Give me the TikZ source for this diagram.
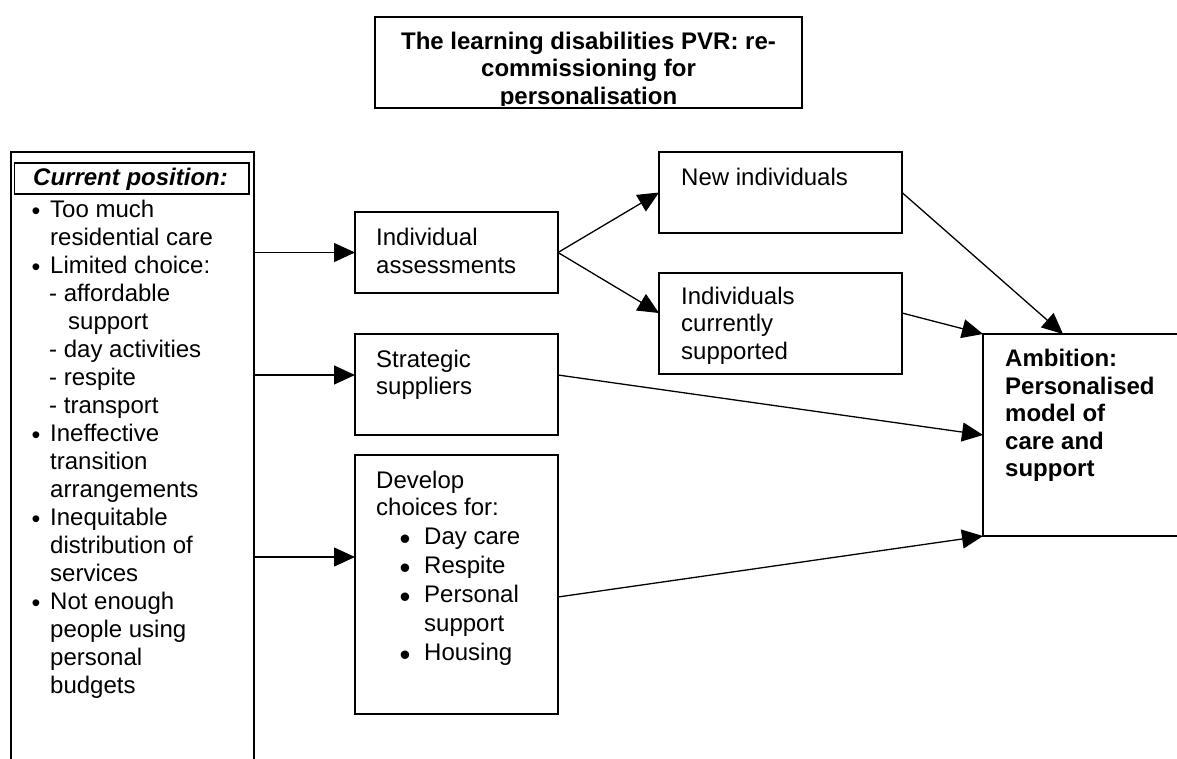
\documentclass[tikz,border=0pt]{standalone}
\usepackage{fontspec}
\setmainfont{Liberation Sans}
\usetikzlibrary{arrows.meta,calc}
\begin{document}
\begin{tikzpicture}[x=1pt,y=-1pt,
  box/.style={draw, line width=1.8pt, inner sep=0pt, outer sep=0pt, anchor=north west},
  txt/.style={inner sep=0pt, anchor=base west, font=\fontsize{24}{27.6}\selectfont},
  btxt/.style={inner sep=0pt, anchor=base west, font=\fontsize{24}{27.6}\selectfont\bfseries},
  bul/.style={inner sep=0pt, anchor=base, yshift=-2.8pt, font=\fontsize{25}{28}\selectfont},
  bigbul/.style={inner sep=0pt, anchor=base, yshift=-5.2pt, font=\fontsize{31}{34}\selectfont},
  conn/.style={line width=1.3pt, -{Triangle[length=21pt,width=19pt]}},
]
\useasboundingbox (0,0) rectangle (1177,758);
\clip (0,0) rectangle (1177,758);

% boxes
\node[box, minimum width=427pt, minimum height=91pt] (title) at (375,17) {};
\node[box, minimum width=243pt, minimum height=618pt] (lb) at (11,152) {};
\node[box, minimum width=234.5pt, minimum height=31pt] (cp) at (14.5,163) {};
\node[box, minimum width=203pt, minimum height=81pt] (ia) at (355,212) {};
\node[box, minimum width=203pt, minimum height=101pt] (ss) at (355,334) {};
\node[box, minimum width=203pt, minimum height=259pt] (dc) at (355,455) {};
\node[box, minimum width=243pt, minimum height=81pt] (ni) at (659,152) {};
\node[box, minimum width=243pt, minimum height=101pt] (ics) at (659,273) {};
\node[box, minimum width=210pt, minimum height=202pt] (amb) at (983,334) {};

% title text (clipped by its box)
\begin{scope}
  \clip (376,18) rectangle (801,105.8);
  \node[btxt, anchor=base] (t1) at (588.5,49) {The learning disabilities PVR: re-};
  \node[btxt, anchor=base] (t2) at (588.5,76.6) {commissioning for};
  \node[btxt, anchor=base] (t3) at (588.5,104.2) {personalisation};
\end{scope}

% left box
\node[btxt, font=\fontsize{24}{27.6}\selectfont\bfseries\itshape] (cptxt) at (33,185) {Current position:};
\foreach \xx/\ltext [count=\i from 0] in {
  50/Too much, 50/residential care, 50/Limited choice:, 49/- affordable,
  68/support, 49/- day activities, 49/- respite, 49/- transport,
  50/Ineffective, 50/transition, 50/arrangements, 50/Inequitable,
  50/distribution of, 50/services, 50/Not enough, 50/people using,
  50/personal, 50/budgets}
  \node[txt] (lt\i) at (\xx,217+28*\i) {\ltext};
\foreach \i in {0,2,8,11,14}
  \node[bul] (lbul\i) at (36,217+28*\i) {•};

% middle boxes
\node[txt] (ia1) at (376,245.5) {Individual};
\node[txt] (ia2) at (376,273.1) {assessments};
\node[txt] (ss1) at (376,367) {Strategic};
\node[txt] (ss2) at (376,394.6) {suppliers};
\node[txt] (dc1) at (376,488) {Develop};
\node[txt] (dc2) at (376,515.6) {choices for:};
\foreach \yy/\ltext [count=\i] in {544.5/Day care, 573.5/Respite, 602.5/Personal, 660/Housing}
  \node[bigbul] (dbul\i) at (405,\yy) {•};
\foreach \yy/\ltext [count=\i] in {544.5/Day care, 573.5/Respite, 602.5/Personal, 631/support, 660/Housing}
  \node[txt] (dct\i) at (424,\yy) {\ltext};

% right boxes
\node[txt] (ni1) at (681,185) {New individuals};
\node[txt] (ics1) at (681,304) {Individuals};
\node[txt] (ics2) at (681,331.6) {currently};
\node[txt] (ics3) at (681,359.2) {supported};
\foreach \ltext [count=\i from 0] in {Ambition:, Personalised, model of, care and, support}
  \node[btxt] (am\i) at (1005,366.7+27.5*\i) {\ltext};

% connector points
\coordinate (ssin) at ([yshift=9.5pt]ss.west);
\coordinate (ssout) at ([yshift=9.5pt]ss.east);
\coordinate (dcin) at ([yshift=27.5pt]dc.west);
\coordinate (dcout) at ([yshift=-12.5pt]dc.east);
\coordinate (icsin) at ([yshift=10.5pt]ics.west);
\coordinate (icsout) at ([yshift=10.5pt]ics.east);
\coordinate (ambtop) at ([xshift=80pt]amb.north west);

% connectors
\draw[conn] (lb.east |- ia.west) -- (ia.west);
\draw[conn] (lb.east |- ssin) -- (ssin);
\draw[conn] (lb.east |- dcin) -- (dcin);
\draw[conn] (ia.east) -- (ni.west);
\draw[conn] (ia.east) -- (icsin);
\draw[conn] (ni.east) -- (ambtop);
\draw[conn] (icsout) -- (amb.north west);
\draw[conn] (ssout) -- (amb.west);
\draw[conn] (dcout) -- (amb.south west);
\end{tikzpicture}
\end{document}
